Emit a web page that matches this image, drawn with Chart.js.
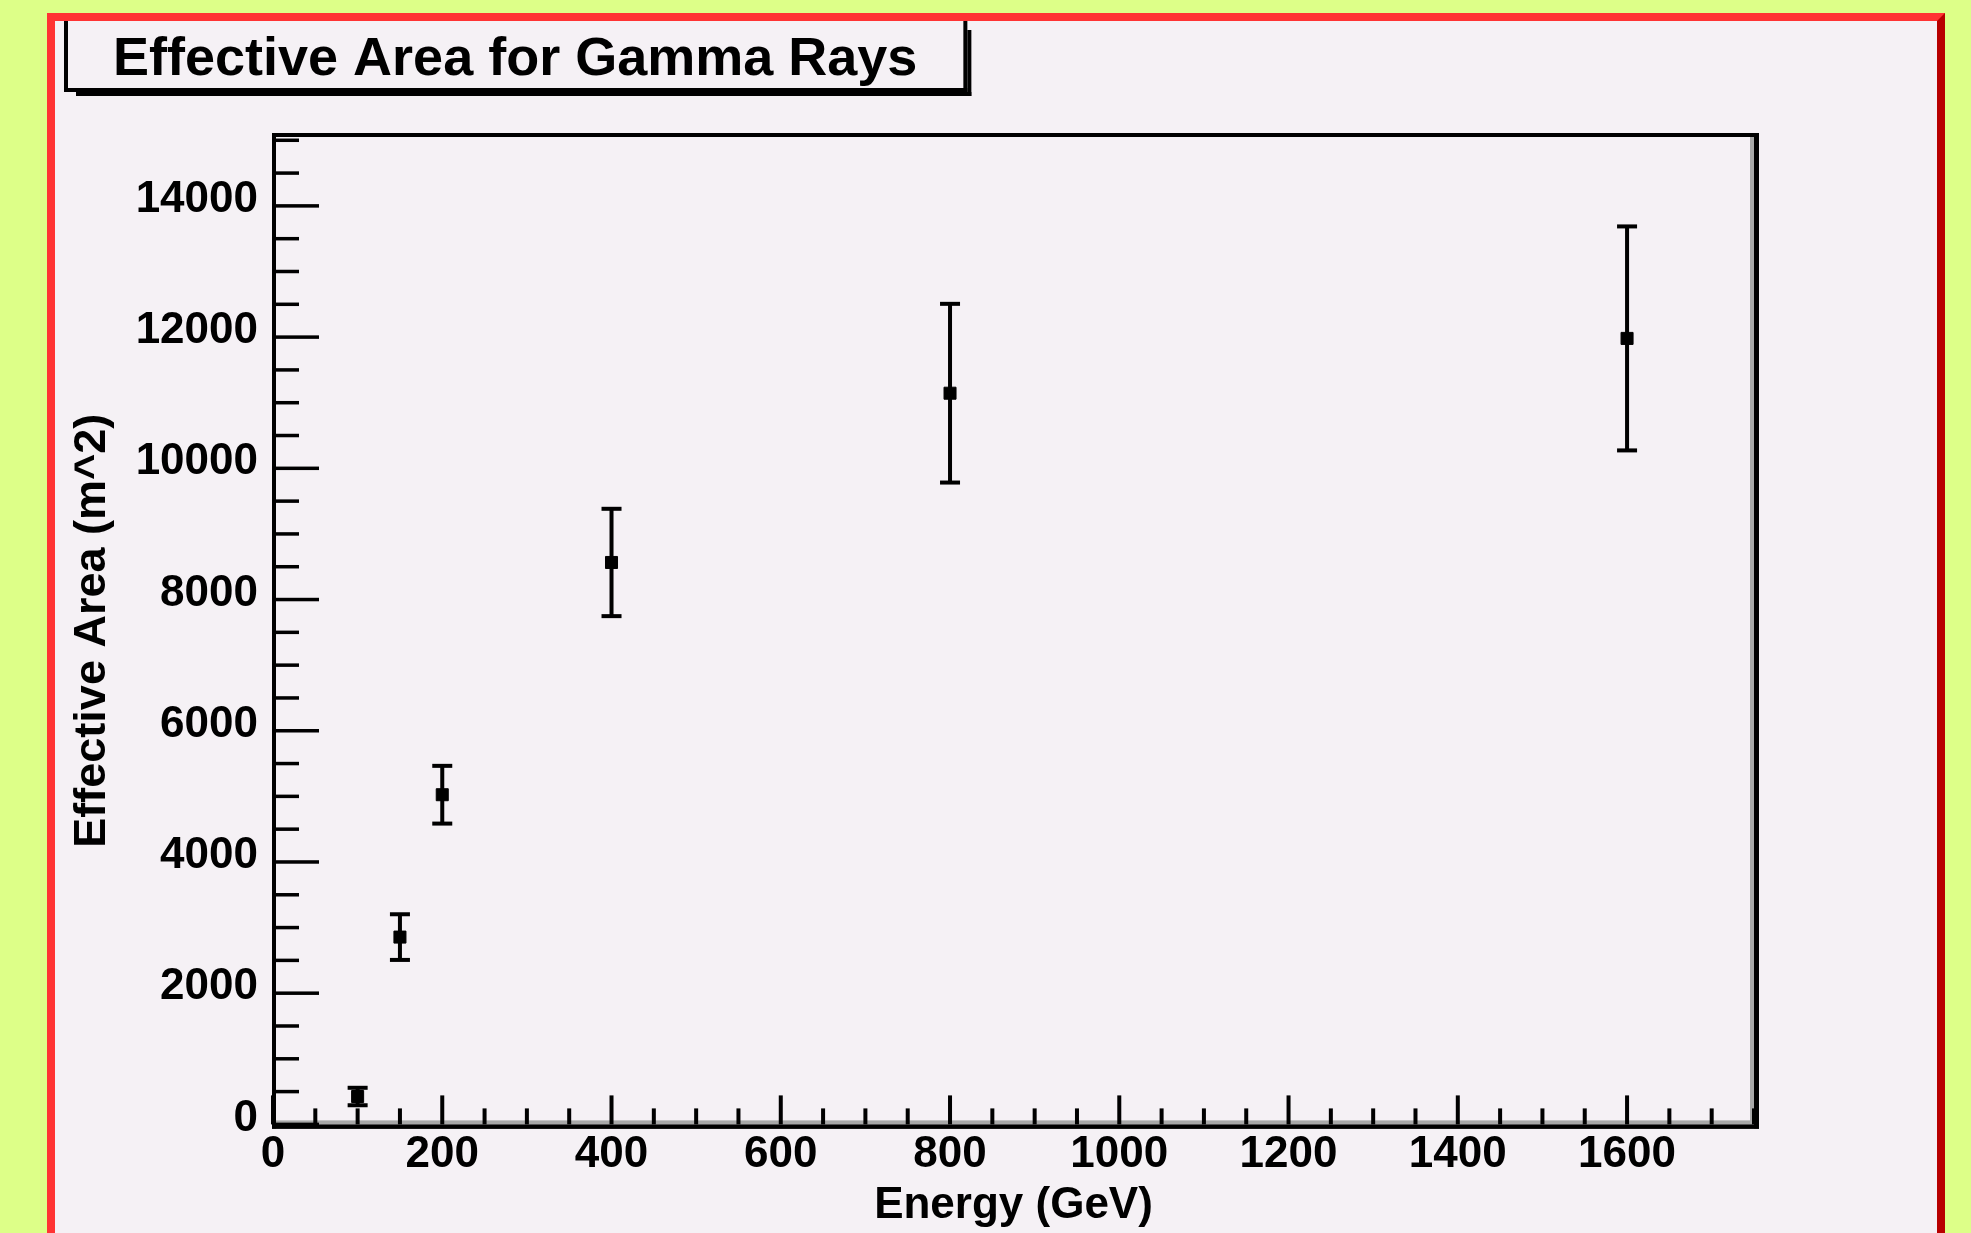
<!DOCTYPE html>
<html>
<head>
<meta charset="utf-8">
<script src="https://cdn.jsdelivr.net/npm/chart.js@4.4.1/dist/chart.umd.min.js"></script>
<style>
  html, body { margin: 0; padding: 0; background: #ddff88; overflow: hidden; }
  #panel {
    position: absolute; left: 47px; top: 13px; width: 1882px; height: 1240px;
    border-top: 8px solid #ff3333; border-left: 8px solid #ff3333; border-right: 8px solid #b80000;
    background: #f5f1f5;
  }
  #wrap { position: absolute; left: 0; top: 0; width: 1971px; height: 1233px; }
</style>
</head>
<body>
<div id="panel"></div>
<div id="wrap"><canvas id="effArea"></canvas></div>
<script>
// energy bins (GeV), effective area (m^2) and its error
const energy = [100, 150, 200, 400, 800, 1600];
const area = [425, 2855, 5025, 8565, 11145, 11980];
const areaErr = [133, 348, 440, 818, 1362, 1707];

const xTickStep = 50, xLabelStep = 200;
const yTickStep = 500, yLabelStep = 2000;

const FONT = "'Liberation Sans', Arial, Helvetica, sans-serif";

// vertical error bars with caps, drawn under the markers
const errorBars = {
  id: "errorBars",
  beforeDatasetsDraw(chart) {
    const { ctx, scales: { x, y } } = chart;
    ctx.save();
    ctx.fillStyle = "#000";
    energy.forEach((e, i) => {
      const px = x.getPixelForValue(e);
      const top = y.getPixelForValue(area[i] + areaErr[i]);
      const bot = y.getPixelForValue(area[i] - areaErr[i]);
      ctx.fillRect(px - 2, top, 4, bot - top);
      ctx.fillRect(px - 10, top - 2, 20, 4);
      ctx.fillRect(px - 10, bot - 2, 20, 4);
    });
    ctx.restore();
  },
};

// ROOT style frame, ticks pointing inwards
const rootFrame = {
  id: "rootFrame",
  afterDatasetsDraw(chart) {
    const { ctx, chartArea: a, scales: { x, y } } = chart;
    ctx.save();
    ctx.fillStyle = "#a8a8a8";
    ctx.fillRect(a.right - 4, a.top, 4, a.bottom - a.top);
    ctx.fillRect(a.left, a.bottom - 4, a.right - a.left, 4);
    ctx.fillStyle = "#000";
    x.ticks.forEach((t) => {
      const px = x.getPixelForValue(t.value);
      const len = t.value % xLabelStep === 0 ? 29 : 16;
      ctx.fillRect(px - 2, a.bottom - len, 4, len);
    });
    y.ticks.forEach((t) => {
      const py = y.getPixelForValue(t.value);
      const len = t.value % yLabelStep === 0 ? 46 : 26;
      ctx.fillRect(a.left, py - 1.75, len, 3.5);
    });
    ctx.fillRect(a.left - 1, a.top - 4, 4, a.bottom - a.top + 8);
    ctx.fillRect(a.left - 1, a.top - 4, a.right - a.left + 6, 4);
    ctx.fillRect(a.right, a.top - 4, 5, a.bottom - a.top + 8);
    ctx.fillRect(a.left - 1, a.bottom, a.right - a.left + 6, 4.5);
    ctx.restore();
  },
};

// box with shadow round the title
const titleBox = {
  id: "titleBox",
  afterDraw(chart) {
    const { ctx } = chart;
    const tb = chart.titleBlock;
    ctx.save();
    ctx.font = "bold 54px " + FONT;
    const w = ctx.measureText(chart.options.plugins.title.text).width;
    const l = tb.left - 49, r = tb.left + w + 50;
    ctx.fillStyle = "#000";
    ctx.fillRect(l, 21, 4, 71);
    ctx.fillRect(r - 4, 21, 4, 71);
    ctx.fillRect(l, 88, r - l, 4);
    ctx.fillRect(l + 12, 92, r - l - 8, 4);
    ctx.fillRect(r, 30, 4, 66);
    ctx.restore();
  },
};

const labelFont = { family: FONT, size: 44, weight: "bold" };

new Chart(document.getElementById("effArea"), {
  type: "scatter",
  data: {
    datasets: [
      {
        label: "Effective Area",
        data: energy.map((e, i) => ({ x: e, y: area[i] })),
        pointStyle: "rect",
        pointRadius: 8.5,
        pointHoverRadius: 8.5,
        backgroundColor: "#000",
        borderColor: "#000",
        borderWidth: 1,
      },
    ],
  },
  options: {
    responsive: true,
    maintainAspectRatio: false,
    animation: false,
    devicePixelRatio: 1,
    layout: { padding: { left: 113, right: 217, top: 0, bottom: 0 } },
    plugins: {
      legend: { display: false },
      tooltip: { enabled: false },
      title: {
        display: true,
        text: "Effective Area for Gamma Rays",
        align: "start",
        color: "#000",
        font: { family: FONT, size: 54, weight: "bold", lineHeight: 1 },
        padding: { top: 33, bottom: 50 },
      },
    },
    scales: {
      x: {
        type: "linear",
        min: 0,
        max: 1750,
        afterFit: (s) => { s.height = 108.6; },
        afterBuildTicks: (s) => {
          s.ticks = [];
          for (let v = s.min; v <= s.max; v += xTickStep) s.ticks.push({ value: v });
        },
        grid: { display: false, drawTicks: false },
        border: { display: false },
        ticks: {
          autoSkip: false,
          maxRotation: 0,
          minRotation: 0,
          padding: 4,
          color: "#000",
          font: labelFont,
          callback: (v) => (v % xLabelStep === 0 ? String(v) : ""),
        },
        title: {
          display: true,
          text: "Energy (GeV)",
          color: "#000",
          font: labelFont,
          padding: { top: 0, bottom: 0.5 },
        },
      },
      y: {
        min: 0,
        max: 15050,
        afterFit: (s) => { s.width = 160; },
        afterBuildTicks: (s) => {
          s.ticks = [];
          for (let v = s.min; v <= s.max; v += yTickStep) s.ticks.push({ value: v });
        },
        grid: { display: false, drawTicks: false },
        border: { display: false },
        ticks: {
          autoSkip: false,
          padding: 15,
          labelOffset: -6,
          color: "#000",
          font: labelFont,
          callback: (v) => (v % yLabelStep === 0 ? String(v) : ""),
        },
        title: {
          display: true,
          text: "Effective Area (m^2)",
          color: "#000",
          font: { family: FONT, size: 45, weight: "bold" },
          padding: { top: -47, bottom: 0 },
        },
      },
    },
  },
  plugins: [errorBars, rootFrame, titleBox],
});
</script>
</body>
</html>
